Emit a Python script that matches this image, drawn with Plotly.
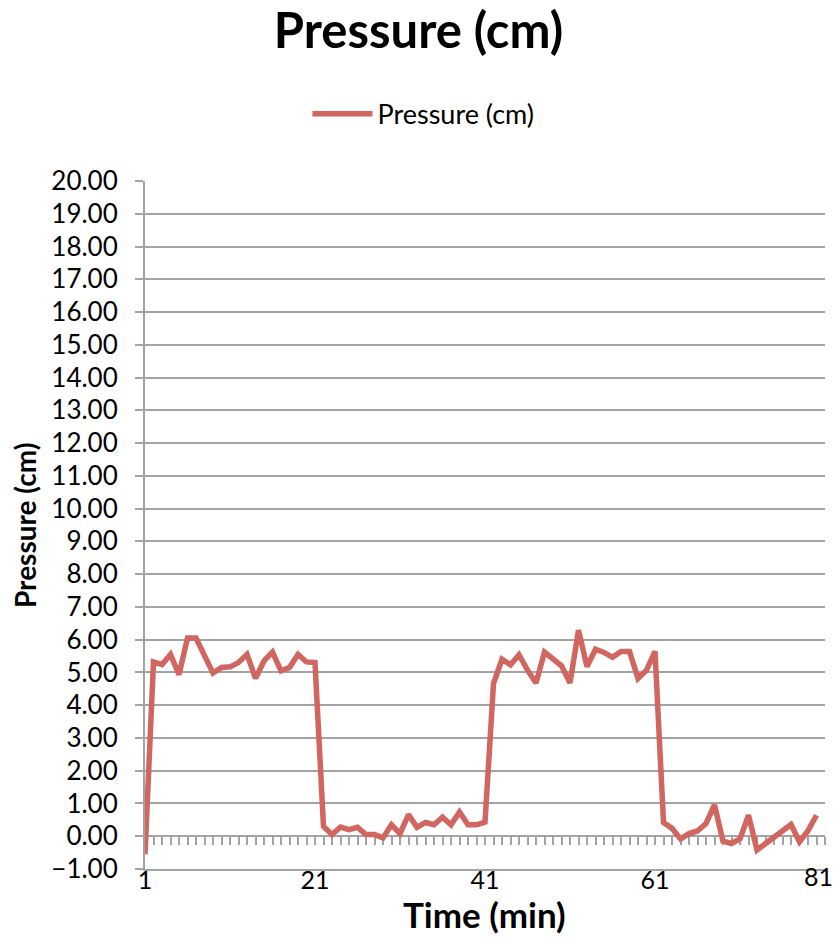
import plotly.graph_objects as go

# ---- data ----
time_min = list(range(1, 81))
pressure_cm = [
    -0.55, 5.32, 5.24, 5.55, 4.93, 6.05, 6.05, 5.50, 4.98, 5.15,
    5.17, 5.30, 5.55, 4.82, 5.35, 5.62, 5.05, 5.15, 5.55, 5.32,
    5.30, 0.30, 0.05, 0.28, 0.20, 0.27, 0.05, 0.05, -0.05, 0.35,
    0.08, 0.66, 0.27, 0.42, 0.35, 0.58, 0.35, 0.74, 0.35, 0.35,
    0.43, 4.66, 5.40, 5.23, 5.54, 5.07, 4.68, 5.62, 5.43, 5.20,
    4.68, 6.29, 5.18, 5.71, 5.61, 5.46, 5.64, 5.64, 4.82, 5.07,
    5.64, 0.42, 0.24, -0.08, 0.08, 0.16, 0.39, 0.96, -0.15, -0.22,
    -0.08, 0.64, -0.42, -0.22, -0.05, 0.16, 0.36, -0.17, 0.17, 0.64,
]
x_tick_vals = [1, 21, 41, 61]
last_tick = 81
x_range = [1, 81]
y_range = [-1, 20]

LINE = "#D0665F"
GRID = "#A3A3A3"
FONT = "Lato"
TICK_SIZE = 25

fig = go.Figure()
fig.add_trace(go.Scatter(
    x=time_min, y=pressure_cm, mode="lines", name="Pressure (cm)",
    line=dict(color=LINE, width=5.5), xaxis="x", yaxis="y",
))
# helper trace for the category tick axis drawn along y = 0
fig.add_trace(go.Scatter(
    x=time_min, y=pressure_cm, mode="lines", xaxis="x2", yaxis="y",
    line=dict(width=0, color="rgba(0,0,0,0)"), showlegend=False, hoverinfo="skip",
))

zero_pos = (0 - y_range[0]) / (y_range[1] - y_range[0])

fig.update_layout(
    width=837, height=937,
    margin=dict(l=145, r=12, t=181, b=68),
    paper_bgcolor="white", plot_bgcolor="white",
    font=dict(family=FONT, color="black"),
    title=dict(text="<b>Pressure (cm)</b>", x=0.5, xanchor="center",
               y=1 - 31 / 937, yanchor="middle", font=dict(size=49, family=FONT)),
    showlegend=True,
    legend=dict(orientation="h", x=0.4095, xanchor="center", y=1.097, yanchor="middle",
                font=dict(size=27, family=FONT), itemwidth=60,
                bgcolor="rgba(0,0,0,0)"),
    xaxis=dict(
        range=x_range, tickmode="array", tickvals=x_tick_vals,
        ticktext=[str(v) for v in x_tick_vals], automargin=False,
        showgrid=False, zeroline=False, showline=True, linecolor=GRID, linewidth=2,
        ticks="", tickfont=dict(size=TICK_SIZE, family=FONT), ticklabelstandoff=-12,
    ),
    xaxis2=dict(
        overlaying="x", matches="x", range=x_range, anchor="free", position=zero_pos,
        side="bottom", showgrid=False, zeroline=False, showline=True,
        linecolor=GRID, linewidth=2, ticks="outside", ticklen=8, tickwidth=2,
        tickcolor=GRID, tickmode="linear", tick0=1, dtick=1,
        showticklabels=False, layer="below traces", automargin=False,
    ),
    yaxis=dict(
        range=y_range, tickmode="linear", tick0=-1, dtick=1, tickformat=".2f",
        showgrid=True, gridcolor=GRID, gridwidth=2, zeroline=False,
        showline=True, linecolor=GRID, linewidth=2, automargin=False,
        ticks="outside", ticklen=8, tickwidth=2, tickcolor=GRID,
        tickfont=dict(size=26, family=FONT), ticklabelstandoff=12,
    ),
    annotations=[
        # last category label, nudged inside the chart like the reference
        dict(text=str(last_tick), xref="x", yref="paper", x=last_tick, xshift=-7,
             y=-(876 - 869) / 688, xanchor="center", yanchor="middle",
             showarrow=False, font=dict(size=TICK_SIZE, family=FONT)),
        dict(text="<b>Time (min)</b>", xref="paper", yref="paper",
             x=(484 - 145) / 680, y=-(914 - 869) / 688, xanchor="center", yanchor="middle",
             showarrow=False, font=dict(size=35, family=FONT)),
        dict(text="<b>Pressure (cm)</b>", xref="paper", yref="paper", textangle=-90,
             x=-(145 - 25) / 680, y=(869 - 525) / 688, xanchor="center", yanchor="middle",
             showarrow=False, font=dict(size=28, family=FONT)),
    ],
)

fig.write_html("out.html")
